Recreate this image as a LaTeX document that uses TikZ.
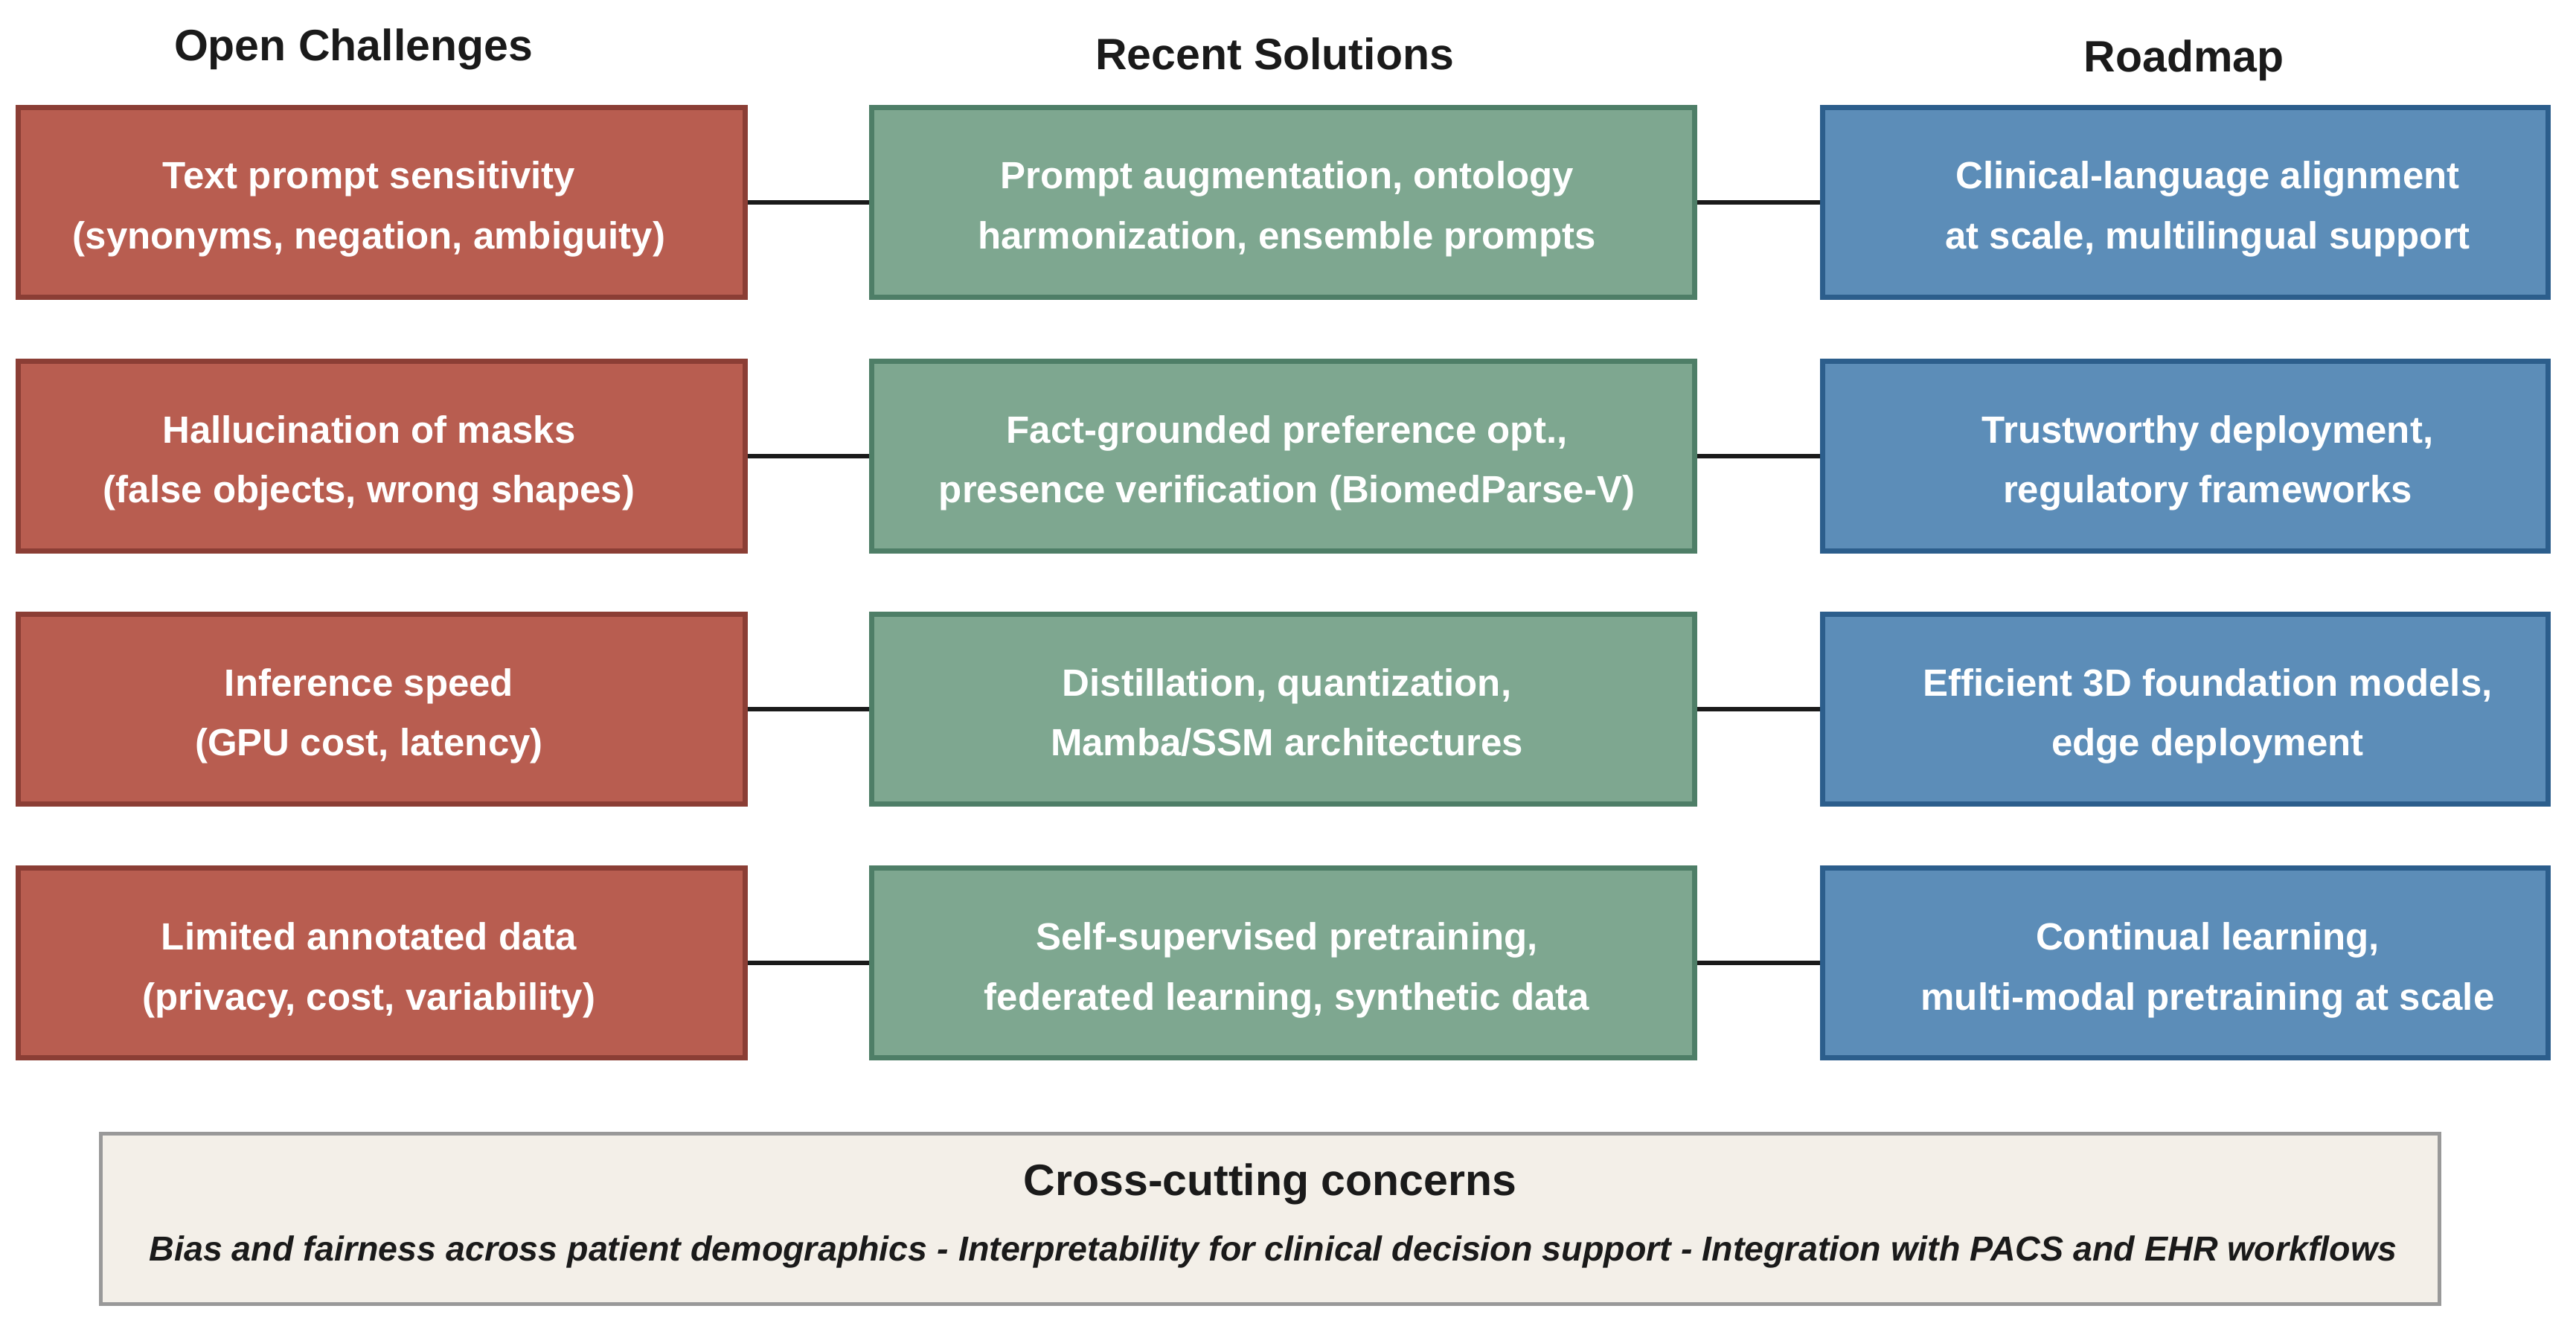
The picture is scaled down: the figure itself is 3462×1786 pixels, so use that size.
\documentclass[tikz,border=0pt]{standalone}
\usepackage{fontspec}
\setmainfont{Liberation Sans}
\definecolor{redfill}{HTML}{B85D50}
\definecolor{redline}{HTML}{8B3E35}
\definecolor{greenfill}{HTML}{7EA790}
\definecolor{greenline}{HTML}{4E7E67}
\definecolor{bluefill}{HTML}{5C8DB8}
\definecolor{blueline}{HTML}{2C5E8C}
\definecolor{notefill}{HTML}{F3EFE8}
\definecolor{noteline}{HTML}{999999}
\definecolor{ink}{HTML}{1A1A1A}
\newcommand{\bxs}{\vrule height 14pt depth 2.75pt width 0pt}
\newcommand{\lpadval}{0pt}
\newcommand{\rpadval}{0pt}
\newcommand{\bxline}[1]{\bxs\hspace*{\lpadval}#1\hspace*{\rpadval}}
\tikzset{
  cardbox/.style={draw, line width=1.75pt, minimum height=63.75pt, inner sep=0pt,
    align=center, text=white, font=\fontsize{12.75pt}{20.25pt}\selectfont\bfseries},
  chal/.style={cardbox, fill=redfill, draw=redline, minimum width=244.25pt,
    execute at begin node={\renewcommand{\lpadval}{0pt}\renewcommand{\rpadval}{8.5pt}}},
  sol/.style={cardbox, fill=greenfill, draw=greenline, minimum width=276.5pt,
    execute at begin node={\renewcommand{\lpadval}{2.5pt}\renewcommand{\rpadval}{0pt}}},
  road/.style={cardbox, fill=bluefill, draw=blueline, minimum width=243.75pt,
    execute at begin node={\renewcommand{\lpadval}{15pt}\renewcommand{\rpadval}{0pt}}},
  colhead/.style={anchor=base, inner sep=0pt, text=ink, font=\fontsize{14.75pt}{18pt}\selectfont\bfseries},
  link/.style={draw=ink, line width=1.7pt},
  notebox/.style={draw=noteline, fill=notefill, line width=1.25pt, minimum width=785.75pt,
    minimum height=57.25pt, inner sep=0pt}
}
\begin{document}
\begin{tikzpicture}[x=0.25pt,y=-0.25pt]
\useasboundingbox (0,0) rectangle (3462,1786);
% headings
\node[colhead] (h1) at (475,82) {Open Challenges};
\node[colhead] (h2) at (1713,94) {Recent Solutions};
\node[colhead] (h3) at (2935,97) {Roadmap};
% row 1
\node[chal] (r1) at (513,272) {\bxline{Text prompt sensitivity}\\\bxline{(synonyms, negation, ambiguity)}};
\node[sol] (g1) at (1724.5,272) {\bxline{Prompt augmentation, ontology}\\\bxline{harmonization, ensemble prompts}};
\node[road] (b1) at (2937,272) {\bxline{Clinical-language alignment}\\\bxline{at scale, multilingual support}};
% row 2
\node[chal] (r2) at (513,613) {\bxline{Hallucination of masks}\\\bxline{(false objects, wrong shapes)}};
\node[sol] (g2) at (1724.5,613) {\bxline{Fact-grounded preference opt.,}\\\bxline{presence verification (BiomedParse-V)}};
\node[road] (b2) at (2937,613) {\bxline{Trustworthy deployment,}\\\bxline{regulatory frameworks}};
% row 3
\node[chal] (r3) at (513,953) {\bxline{Inference speed}\\\bxline{(GPU cost, latency)}};
\node[sol] (g3) at (1724.5,953) {\bxline{Distillation, quantization,}\\\bxline{Mamba/SSM architectures}};
\node[road] (b3) at (2937,953) {\bxline{Efficient 3D foundation models,}\\\bxline{edge deployment}};
% row 4
\node[chal] (r4) at (513,1294) {\bxline{Limited annotated data}\\\bxline{(privacy, cost, variability)}};
\node[sol] (g4) at (1724.5,1294) {\bxline{Self-supervised pretraining,}\\\bxline{federated learning, synthetic data}};
\node[road] (b4) at (2937,1294) {\bxline{Continual learning,}\\\bxline{multi-modal pretraining at scale}};
% connectors
\foreach \i in {1,2,3,4}{
  \draw[link] (r\i.east) -- (g\i.west);
  \draw[link] (g\i.east) -- (b\i.west);
}
% bottom box
\node[notebox] (cc) at (1707,1638) {};
\node[anchor=base, inner sep=0pt, text=ink, font=\fontsize{14.75pt}{18pt}\selectfont\bfseries] (cct) at (1707,1606) {Cross-cutting concerns};
\node[anchor=base, inner sep=0pt, text=ink, font=\fontsize{11.65pt}{14pt}\selectfont\bfseries\itshape] (ccl) at (1711,1694) {Bias and fairness across patient demographics - Interpretability for clinical decision support - Integration with PACS and EHR workflows};
\end{tikzpicture}
\end{document}
